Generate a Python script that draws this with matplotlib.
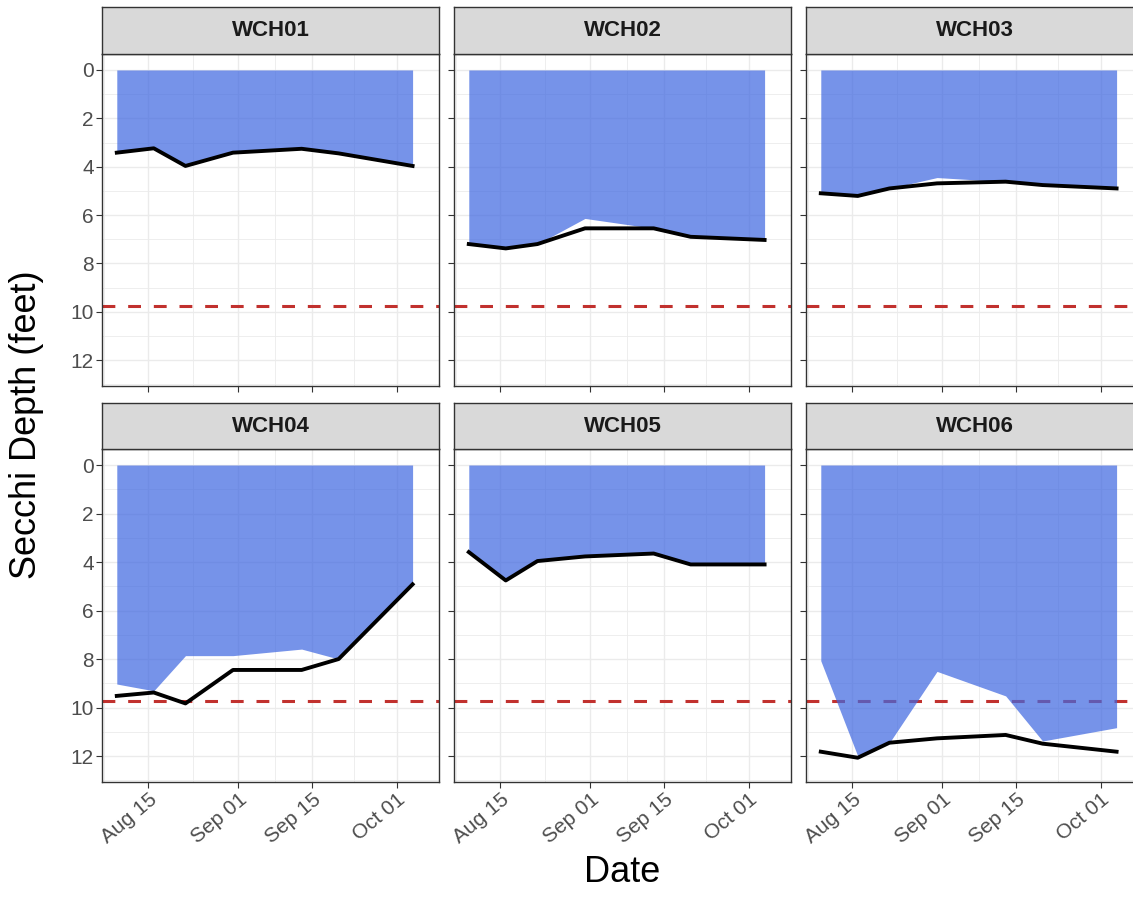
import matplotlib
matplotlib.use("Agg")
import matplotlib.pyplot as plt
import matplotlib.dates as mdates
import numpy as np
import pandas as pd

plt.rcParams['font.family'] = ['Liberation Sans', 'DejaVu Sans']

# ---------------- data ----------------
sites = ["WCH01", "WCH02", "WCH03", "WCH04", "WCH05", "WCH06"]
dates = pd.to_datetime(["2021-08-09", "2021-08-16", "2021-08-22", "2021-08-31",
                        "2021-09-13", "2021-09-20", "2021-10-04"])

secchi_wch01 = [3.42, 3.24, 3.97, 3.42, 3.26, 3.45, 3.97]
secchi_wch02 = [7.20, 7.38, 7.20, 6.55, 6.55, 6.90, 7.03]
secchi_wch03 = [5.10, 5.21, 4.90, 4.69, 4.62, 4.76, 4.90]
secchi_wch04 = [9.52, 9.38, 9.83, 8.45, 8.45, 8.00, 4.92]
secchi_wch05 = [3.59, 4.76, 3.96, 3.77, 3.65, 4.10, 4.10]
secchi_wch06 = [11.82, 12.07, 11.45, 11.27, 11.13, 11.49, 11.82]

area_wch01 = [3.42, 3.24, 3.97, 3.42, 3.26, 3.45, 3.97]
area_wch02 = [7.20, 7.38, 7.20, 6.14, 6.55, 6.90, 7.03]
area_wch03 = [5.10, 5.21, 4.90, 4.45, 4.62, 4.76, 4.90]
area_wch04 = [9.03, 9.31, 7.86, 7.86, 7.59, 8.00, 4.92]
area_wch05 = [3.59, 4.76, 3.96, 3.77, 3.65, 4.10, 4.10]
area_wch06 = [8.07, 12.00, 11.45, 8.51, 9.52, 11.38, 10.83]

threshold = 9.75

secchi = [secchi_wch01, secchi_wch02, secchi_wch03, secchi_wch04, secchi_wch05, secchi_wch06]
area = [area_wch01, area_wch02, area_wch03, area_wch04, area_wch05, area_wch06]

x_major = pd.to_datetime(["2021-08-15", "2021-09-01", "2021-09-15", "2021-10-01"])
y_major = [0, 2, 4, 6, 8, 10, 12]

# ---------------- layout ----------------
W, H = 1133, 911
fig = plt.figure(figsize=(W / 100, H / 100), dpi=100)

cols = [(102, 439), (454, 791), (806, 1143)]
rows = [((7, 54), (54, 386)), ((403, 449), (449, 782))]

def rect(x0, x1, y0, y1):
    return [x0 / W, 1 - y1 / H, (x1 - x0) / W, (y1 - y0) / H]

dnum = mdates.date2num(dates)
span = dnum[-1] - dnum[0]
xlim = (dnum[0] - 0.05 * span, dnum[-1] + 0.05 * span)
xmaj = mdates.date2num(x_major)
d = np.diff(xmaj)
xmin = list(xmaj[:-1] + d / 2) + [xmaj[0] - d[0] / 2, xmaj[-1] + d[-1] / 2]

border = "#333333"
for i, site in enumerate(sites):
    r, c = divmod(i, 3)
    (sy0, sy1), (py0, py1) = rows[r]
    x0, x1 = cols[c]
    ax = fig.add_axes(rect(x0, x1, py0, py1))
    ax.set_facecolor("white")
    ax.set_axisbelow(True)

    ax.axhline(threshold, color="#C1312E", lw=2.2, ls=(0, (4.2, 4.2)), zorder=1)
    ax.fill_between(dnum, 0, area[i], color="#4169E1", alpha=0.72, lw=0, zorder=2)
    ax.plot(dnum, secchi[i], color="black", lw=2.8, zorder=3, solid_joinstyle="round")

    ax.set_xlim(*xlim)
    ax.set_ylim(13.07, -0.66)
    ax.set_xticks(xmaj)
    ax.set_xticks(xmin, minor=True)
    ax.set_yticks(y_major)
    ax.set_yticks(np.arange(1, 14, 2), minor=True)
    ax.grid(which="major", color="#EBEBEB", lw=1.0)
    ax.grid(which="minor", color="#EBEBEB", lw=0.6)
    ax.tick_params(which="minor", length=0)
    ax.tick_params(which="major", length=4, width=0.8, color=border,
                   labelsize=15, labelcolor="#4D4D4D", pad=2)
    for s in ax.spines.values():
        s.set_color(border)
        s.set_linewidth(1.0)

    if c == 0:
        ax.set_yticklabels([str(v) for v in y_major])
    else:
        ax.set_yticklabels([])
    if r == 1:
        ax.set_xticklabels([pd.Timestamp(t).strftime("%b %d") for t in x_major],
                           rotation=40, ha="right", rotation_mode="anchor")
    else:
        ax.set_xticklabels([])

    sax = fig.add_axes(rect(x0, x1, sy0, sy1))
    sax.set_facecolor("#D9D9D9")
    sax.set_xticks([])
    sax.set_yticks([])
    for s in sax.spines.values():
        s.set_color(border)
        s.set_linewidth(1.0)
    sax.text(0.5, 0.5, site, transform=sax.transAxes, ha="center", va="center",
             fontsize=16, fontweight="bold", color="#1A1A1A")

fig.text(27 / W, 1 - 425 / H, "Secchi Depth (feet)", rotation=90, ha="center",
         va="center", fontsize=26, color="black")
fig.text(622 / W, 1 - 872 / H, "Date", ha="center", va="center", fontsize=26,
         color="black")

fig.savefig("out.png", dpi=100)
